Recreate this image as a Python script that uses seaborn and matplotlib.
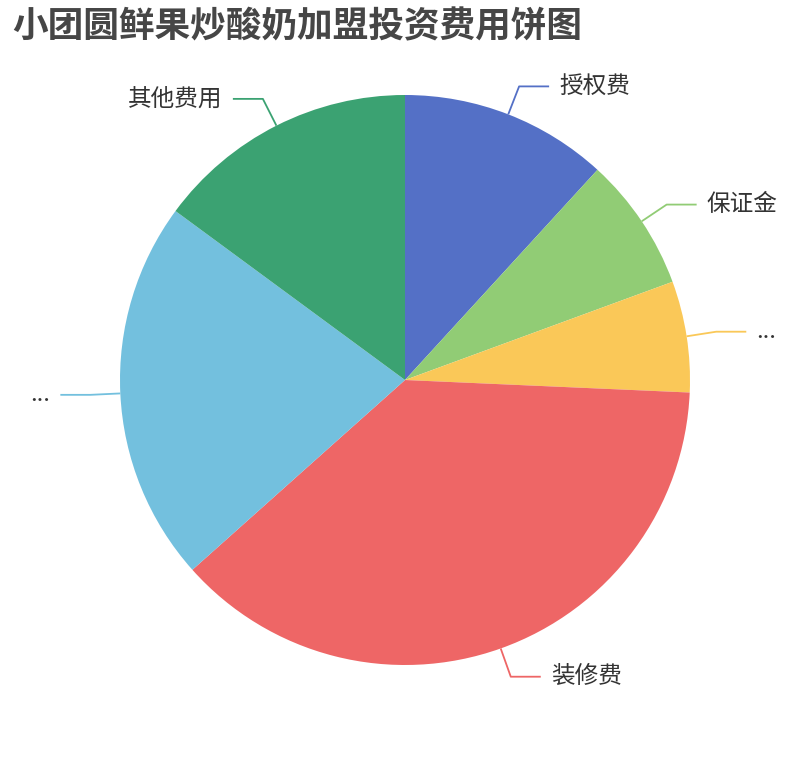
import numpy as np
import matplotlib
matplotlib.use("Agg")
import matplotlib.pyplot as plt
import seaborn as sns

# Data (share of total investment, %)
categories = ["授权费", "保证金", "...", "装修费", "...", "其他费用"]
values = [11.8, 7.6, 6.3, 37.7, 21.7, 14.9]
colors = ["#5470c6", "#91cc75", "#fac858", "#ee6666", "#73c0de", "#3ba272"]
title = "小团圆鲜果炒酸奶加盟投资费用饼图"

sns.set_theme(style="white")
plt.rcParams["font.family"] = ["Noto Sans CJK SC", "DejaVu Sans"]

W, H = 810, 760
fig = plt.figure(figsize=(W / 100, H / 100), dpi=100)
ax = fig.add_axes([0, 0, 1, 1])

cx, cy, r = 405, H - 380, 285
wedges, _ = ax.pie(values, colors=colors, startangle=90, counterclock=False,
                   center=(cx, cy), radius=r, frame=True,
                   wedgeprops={"linewidth": 0})
ax.set_xlim(0, W)
ax.set_ylim(0, H)
ax.set_aspect("equal")
ax.axis("off")

# leader lines + labels, echarts style
len1, len2, gap = 30, 30, 10
for w, label, col in zip(wedges, categories, colors):
    mid = np.deg2rad((w.theta1 + w.theta2) / 2)
    dx, dy = np.cos(mid), np.sin(mid)
    x0, y0 = cx + r * dx, cy + r * dy
    x1, y1 = cx + (r + len1) * dx, cy + (r + len1) * dy
    side = 1 if dx >= 0 else -1
    x2 = x1 + side * len2
    ax.plot([x0, x1, x2], [y0, y1, y1], color=col, lw=1.3, solid_capstyle="butt")
    ax.text(x2 + side * gap, y1, label, fontsize=17, color="#333333",
            ha="left" if side > 0 else "right", va="center")

fig.text(12 / W, 1 - 27 / H, title, fontsize=25.7, fontweight="bold",
         color="#464646", ha="left", va="center")

fig.savefig("out.png", dpi=100)
plt.close(fig)
